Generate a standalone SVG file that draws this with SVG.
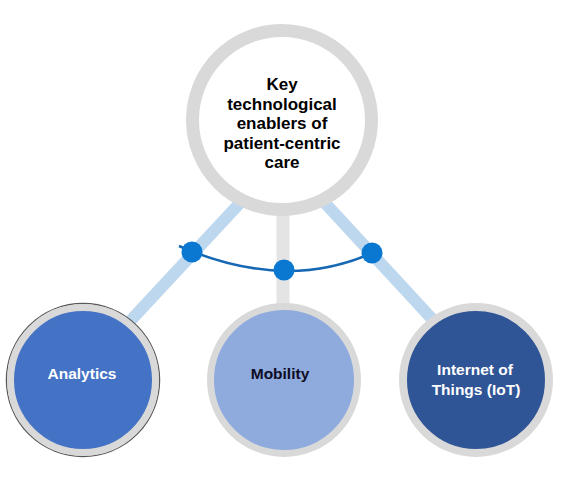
<svg xmlns="http://www.w3.org/2000/svg" width="566" height="482" viewBox="0 0 566 482">
<style>
.t{font-family:"Liberation Sans",Arial,sans-serif;font-weight:bold;text-anchor:middle}
.ring{stroke:#d9d9d9}
.bar{stroke:#bdd7ee;stroke-width:12;fill:none}
.dot{fill:#0a78d0}
</style>
<rect width="566" height="482" fill="#ffffff"/>
<g id="connectors">
<line class="bar" x1="252" y1="190" x2="120" y2="332"/>
<line class="bar" x1="313" y1="190" x2="445" y2="333"/>
<line x1="283" y1="200" x2="283" y2="315" stroke="#e4e4e4" stroke-width="13"/>
<path d="M179 246 Q284 292 372 253" fill="none" stroke="#1668b4" stroke-width="2.5"/>
<circle class="dot" cx="192" cy="252" r="10.5"/>
<circle class="dot" cx="284" cy="270" r="10.5"/>
<circle class="dot" cx="372" cy="253" r="10.5"/>
</g>
<g id="center">
<circle cx="282" cy="120" r="89.5" fill="#ffffff" class="ring" stroke-width="13"/>
<text class="t" font-size="17" fill="#000000"><tspan x="282" y="90">Key</tspan><tspan x="282" y="110">technological</tspan><tspan x="282" y="129">enablers of</tspan><tspan x="282" y="149">patient-centric</tspan><tspan x="282" y="168">care</tspan></text>
</g>
<g id="analytics">
<circle cx="83" cy="380" r="76.5" fill="none" stroke="#595959" stroke-width="1.5"/>
<circle cx="83" cy="380" r="72.5" fill="#4472c4" class="ring" stroke-width="7"/>
<text class="t" x="82" y="379" font-size="15.5" fill="#ffffff">Analytics</text>
</g>
<g id="mobility">
<circle cx="284" cy="380" r="73.5" fill="#8faadc" class="ring" stroke-width="7"/>
<text class="t" x="280" y="379" font-size="15.5" fill="#0d0d26">Mobility</text>
</g>
<g id="iot">
<circle cx="476" cy="380" r="73" fill="#2f5597" class="ring" stroke-width="8"/>
<text class="t" font-size="15.5" fill="#ffffff"><tspan x="475" y="375">Internet of</tspan><tspan x="476" y="395">Things (IoT)</tspan></text>
</g>
</svg>
